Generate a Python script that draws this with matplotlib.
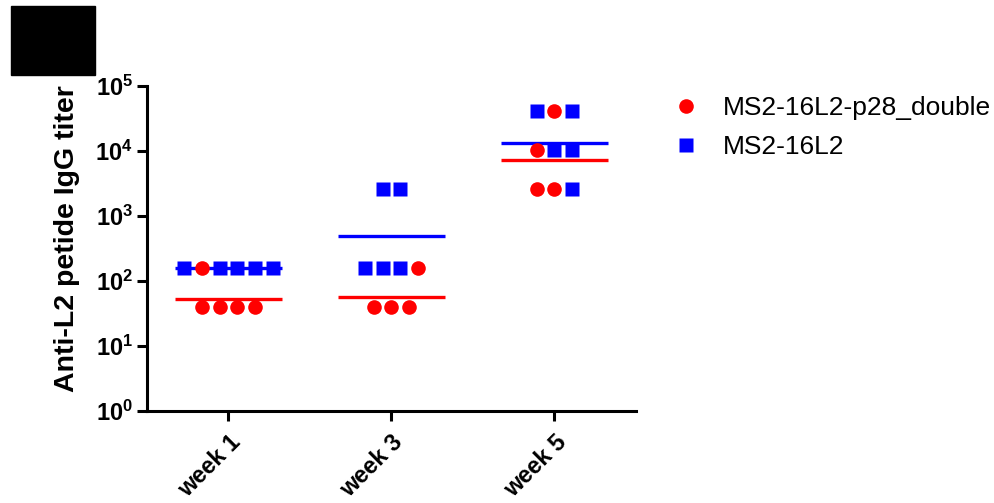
import numpy as np
from matplotlib import pyplot as plt
from matplotlib.patches import Rectangle
from matplotlib.ticker import FixedLocator, FixedFormatter, NullLocator

plt.rcParams['font.family'] = ['Liberation Sans', 'DejaVu Sans']
plt.rcParams['mathtext.fontset'] = 'custom'
plt.rcParams['mathtext.rm'] = 'Liberation Sans'
plt.rcParams['mathtext.bf'] = 'Liberation Sans:bold'

# data (titers)
weeks = ['week 1', 'week 3', 'week 5']
double_titers = [[160, 40, 40, 40, 40],
                 [160, 40, 40, 40],
                 [40960, 10240, 2560, 2560]]
l2_titers = [[160, 160, 160, 160, 160],
             [2560, 2560, 160, 160, 160],
             [40960, 40960, 10240, 10240, 2560]]
double_label = 'MS2-16L2-p28_double'
l2_label = 'MS2-16L2'
y_ticks = [1, 10, 100, 1000, 10000, 100000]
y_ticklabels = [r'$\mathbf{10^{%d}}$' % i for i in range(6)]

# horizontal spread of the dots within each column (in dot widths)
double_slots = [[-1.5, -1.5, -0.5, 0.5, 1.5],
                [1.5, -1, 0, 1],
                [0, -1, -1, 0]]
l2_slots = [[-2.5, -0.5, 0.5, 1.5, 2.5],
            [-0.5, 0.5, -1.5, -0.5, 0.5],
            [-1, 1, 0, 1, 1]]
step = 0.11
half = 0.33

fig = plt.figure(figsize=(9.95, 5.03), dpi=100)
ax = fig.add_axes([147/995, 1-411/503, (636-147)/995, (411-86)/503])

for i in range(len(weeks)):
    # geometric mean lines
    gm_l2 = np.exp(np.mean(np.log(l2_titers[i])))
    gm_d = np.exp(np.mean(np.log(double_titers[i])))
    ax.hlines(gm_l2, i-half, i+half, color='blue', lw=2.4, zorder=2)
    ax.hlines(gm_d, i-half, i+half, color='red', lw=2.4, zorder=2)
    ax.plot(i + step*np.array(l2_slots[i]), l2_titers[i], 's', color='blue',
            ms=10, mec='none', zorder=3, label=l2_label if i == 0 else None)
    ax.plot(i + step*np.array(double_slots[i]), double_titers[i], 'o', color='red',
            ms=10.5, mec='none', zorder=4, label=double_label if i == 0 else None)

ax.set_yscale('log')
ax.set_ylim(1, 100000)
ax.set_xlim(-0.5, 2.5)
ax.yaxis.set_major_locator(FixedLocator(y_ticks))
ax.yaxis.set_major_formatter(FixedFormatter(y_ticklabels))
ax.yaxis.set_minor_locator(NullLocator())
ax.set_xticks(range(len(weeks)))
ax.set_xticklabels(weeks, rotation=45, ha='right', va='top', rotation_mode='anchor',
                   fontsize=17, fontweight='bold')
ax.tick_params(axis='y', labelsize=17, length=7, width=2.2, pad=3)
ax.tick_params(axis='x', length=7, width=2.2, pad=7)
for s in ['top', 'right']:
    ax.spines[s].set_visible(False)
for s in ['left', 'bottom']:
    ax.spines[s].set_linewidth(2.2)
ax.set_ylabel('Anti-L2 petide IgG titer', fontsize=20.5, fontweight='bold')
ax.yaxis.set_label_coords(-0.137, 0.531)

h, l = ax.get_legend_handles_labels()
fig.legend(h[::-1], l[::-1], loc='upper left', bbox_to_anchor=(646/995, 1-72/503),
           frameon=False, fontsize=19, handletextpad=0.8, labelspacing=0.58,
           handlelength=1.2)

# black box top-left
fig.add_artist(Rectangle((11/995, 1-75/503), 84/995, 69/503, color='black',
                         transform=fig.transFigure))

fig.savefig('out.png', dpi=100)
